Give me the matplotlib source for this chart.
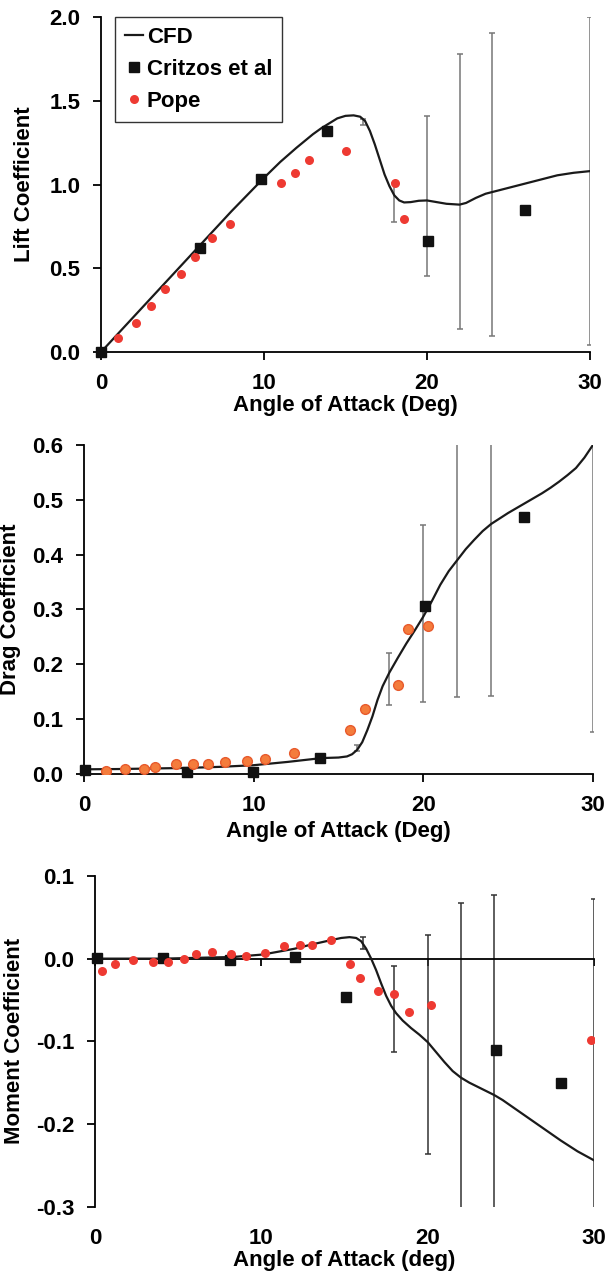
import matplotlib
matplotlib.use("Agg")
import matplotlib.pyplot as plt
from matplotlib.ticker import FormatStrFormatter

plt.rcParams['font.family'] = ['Liberation Sans', 'DejaVu Sans']
plt.rcParams['font.weight'] = 'bold'
plt.rcParams['axes.unicode_minus'] = False

# ---- Lift ----
lift_cfd_a = [0, 2, 4, 6, 8, 9, 10, 11, 12, 13, 13.5, 14, 14.5, 15, 15.5, 15.9, 16.2, 16.5,
              16.8, 17.1, 17.4, 17.7, 18.0, 18.3, 18.6, 19.0, 19.5, 20.0, 20.6, 21.2, 22.0,
              22.4, 23.0, 23.6, 24.2, 25, 26, 27, 28, 29, 30]
lift_cfd = [0, 0.21, 0.42, 0.63, 0.84, 0.94, 1.04, 1.135, 1.22, 1.30, 1.335, 1.365, 1.395,
            1.41, 1.413, 1.405, 1.38, 1.32, 1.24, 1.15, 1.06, 0.99, 0.935, 0.905, 0.893,
            0.895, 0.903, 0.905, 0.895, 0.885, 0.88, 0.89, 0.92, 0.945, 0.96, 0.98, 1.005,
            1.03, 1.055, 1.07, 1.08]
lift_crit_a = [0, 6.07, 9.83, 13.86, 20.05, 26.0]
lift_crit = [0, 0.623, 1.035, 1.317, 0.663, 0.846]
lift_pope_a = [1.07, 2.14, 3.07, 3.93, 4.93, 5.76, 6.83, 7.93, 11.02, 11.93, 12.79, 15.02,
               18.07, 18.6]
lift_pope = [0.084, 0.173, 0.273, 0.378, 0.468, 0.567, 0.681, 0.766, 1.007, 1.071, 1.144,
             1.198, 1.007, 0.796]
lift_err_a = [16.1, 18, 20, 22, 24, 30]
lift_err_lo = [1.355, 0.776, 0.456, 0.139, 0.094, 0.04]
lift_err_hi = [1.392, 1.009, 1.407, 1.781, 1.906, 2.0]

# ---- Drag ----
drag_cfd_a = [0, 2, 4, 6, 8, 10, 12, 14, 15, 15.5, 15.8, 16.1, 16.4, 16.7, 17.0, 17.3, 17.6,
              18.0, 18.5, 19, 19.5, 20, 20.5, 21, 21.5, 22, 22.5, 23, 23.5, 24, 24.5, 25,
              26, 27, 27.5, 28, 28.5, 29, 29.5, 30]
drag_cfd = [0.0085, 0.009, 0.010, 0.011, 0.013, 0.016, 0.022, 0.029, 0.030, 0.032, 0.036,
            0.044, 0.058, 0.08, 0.105, 0.135, 0.16, 0.185, 0.212, 0.238, 0.262, 0.287,
            0.315, 0.345, 0.37, 0.39, 0.41, 0.427, 0.443, 0.456, 0.466, 0.476, 0.494,
            0.512, 0.522, 0.533, 0.545, 0.558, 0.577, 0.6]
drag_crit_a = [0.07, 6.05, 9.97, 13.92, 20.1, 25.96]
drag_crit = [0.007, 0.003, 0.004, 0.030, 0.306, 0.469]
drag_pope_a = [1.3, 2.4, 3.54, 4.17, 5.4, 6.43, 7.3, 8.33, 9.6, 10.65, 12.37, 15.7, 16.54,
               18.48, 19.07, 20.3]
drag_pope = [0.0055, 0.0085, 0.0097, 0.0128, 0.019, 0.019, 0.019, 0.021, 0.024, 0.027,
             0.038, 0.081, 0.119, 0.162, 0.264, 0.27]
drag_err_a = [16.1, 18, 20, 22, 24, 30]
drag_err_lo = [0.042, 0.125, 0.132, 0.141, 0.143, 0.076]
drag_err_hi = [0.053, 0.221, 0.454, 0.65, 0.65, 0.65]

# ---- Moment ----
mom_cfd_a = [0, 4.1, 8.3, 10.1, 12, 13, 14.1, 14.8, 15.3, 15.7, 16.0, 16.3, 16.6, 16.9,
             17.2, 17.5, 17.8, 18.1, 18.5, 19.0, 19.5, 20.0, 20.5, 21, 21.5, 22, 22.5, 23,
             23.5, 24, 24.5, 25, 26, 27, 28, 29, 30]
mom_cfd = [0, 0, 0.002, 0.005, 0.012, 0.017, 0.022, 0.025, 0.026, 0.025, 0.021, 0.012, 0.0,
           -0.014, -0.03, -0.045, -0.057, -0.066, -0.075, -0.084, -0.092, -0.101, -0.113,
           -0.125, -0.136, -0.144, -0.15, -0.155, -0.16, -0.165, -0.171, -0.178, -0.192,
           -0.206, -0.22, -0.233, -0.244]
mom_crit_a = [0.1, 4.08, 8.13, 12.0, 15.1, 24.1, 28.0]
mom_crit = [0.001, 0.001, -0.0015, 0.0016, -0.046, -0.111, -0.15]
mom_pope_a = [0.42, 1.19, 2.3, 3.47, 4.38, 5.36, 6.1, 7.03, 8.18, 9.1, 10.23, 11.37, 12.3,
              13.05, 14.16, 15.33, 15.9, 17.0, 17.96, 18.9, 20.2, 29.8]
mom_pope = [-0.015, -0.007, -0.002, -0.004, -0.004, 0, 0.006, 0.008, 0.0055, 0.0035, 0.007,
            0.015, 0.017, 0.017, 0.023, -0.006, -0.024, -0.039, -0.043, -0.064, -0.056,
            -0.098]
mom_err_a = [16.1, 18, 20, 22, 24, 30]
mom_err_lo = [0.012, -0.113, -0.236, -0.32, -0.32, -0.32]
mom_err_hi = [0.026, -0.009, 0.029, 0.067, 0.077, 0.072]

xticks = [0, 10, 20, 30]
FS = 16

fig = plt.figure(figsize=(6.05, 12.81), dpi=100)
ax1 = fig.add_axes([0.167, 0.7252, 0.808, 0.2615])
ax2 = fig.add_axes([0.139, 0.3958, 0.841, 0.2568])
ax3 = fig.add_axes([0.157, 0.0580, 0.825, 0.2582])


def errbars(ax, xs, lo, hi, color):
    mid = [(a + b) / 2 for a, b in zip(lo, hi)]
    yerr = [[m - a for m, a in zip(mid, lo)], [b - m for m, b in zip(mid, hi)]]
    ax.errorbar(xs, mid, yerr=yerr, fmt='none', ecolor=color, elinewidth=1.1,
                capsize=2.5, capthick=1.1, zorder=2)


def style(ax):
    for s in ['top', 'right']:
        ax.spines[s].set_visible(False)
    for s in ['left', 'bottom']:
        ax.spines[s].set_linewidth(1.3)
    ax.tick_params(direction='out', length=6, width=1.3, labelsize=FS, pad=9)
    ax.set_xlim(0, 30)
    ax.set_xticks(xticks)


def cfd(ax, a, v, **kw):
    ax.plot(a, v, color='#1a1a1a', lw=1.6, solid_joinstyle='round', zorder=3, **kw)


# Lift
style(ax1)
errbars(ax1, lift_err_a, lift_err_lo, lift_err_hi, '#777777')
cfd(ax1, lift_cfd_a, lift_cfd, label='CFD')
ax1.plot(lift_crit_a, lift_crit, 's', color='#111111', ms=6.5, label='Critzos et al',
         zorder=4, clip_on=False)
ax1.plot(lift_pope_a, lift_pope, 'o', color='#ee3a32', ms=6.5, mec='none', label='Pope',
         zorder=4)
ax1.set_ylim(0, 2.0)
ax1.set_yticks([0, 0.5, 1.0, 1.5, 2.0])
ax1.yaxis.set_major_formatter(FormatStrFormatter('%.1f'))
ax1.set_ylabel('Lift Coefficient', fontsize=FS, fontweight='bold', labelpad=10)
ax1.set_xlabel('Angle of Attack (Deg)', fontsize=FS, fontweight='bold', labelpad=1)
leg = ax1.legend(loc='upper left', bbox_to_anchor=(0.028, 1.0), fontsize=FS,
                 frameon=True, fancybox=False, edgecolor='black', handlelength=0.8,
                 handletextpad=0.2, borderpad=0.45, labelspacing=0.5, borderaxespad=0)
leg.get_frame().set_linewidth(1.0)

# Drag
style(ax2)
errbars(ax2, drag_err_a, drag_err_lo, drag_err_hi, '#777777')
cfd(ax2, drag_cfd_a, drag_cfd)
ax2.plot(drag_crit_a, drag_crit, 's', color='#111111', ms=6.5, zorder=4, clip_on=False)
ax2.plot(drag_pope_a, drag_pope, 'o', color='#f47c3c', ms=7, mec='#e85a2c', mew=1,
         zorder=4)
ax2.set_ylim(0, 0.6)
ax2.set_yticks([0, 0.1, 0.2, 0.3, 0.4, 0.5, 0.6])
ax2.yaxis.set_major_formatter(FormatStrFormatter('%.1f'))
ax2.set_ylabel('Drag Coefficient', fontsize=FS, fontweight='bold', labelpad=8)
ax2.set_xlabel('Angle of Attack (Deg)', fontsize=FS, fontweight='bold', labelpad=4)

# Moment
style(ax3)
errbars(ax3, mom_err_a, mom_err_lo, mom_err_hi, '#333333')
cfd(ax3, mom_cfd_a, mom_cfd)
ax3.plot(mom_crit_a, mom_crit, 's', color='#111111', ms=6.5, zorder=4, clip_on=False)
ax3.plot(mom_pope_a, mom_pope, 'o', color='#ee3a32', ms=6.5, mec='none', zorder=4)
ax3.set_ylim(-0.3, 0.1)
ax3.set_yticks([-0.3, -0.2, -0.1, 0.0, 0.1])
ax3.yaxis.set_major_formatter(FormatStrFormatter('%.1f'))
ax3.set_ylabel('Moment Coefficient', fontsize=FS, fontweight='bold', labelpad=8)
# zero line carries the ticks, labels stay at the bottom
ax3.spines['bottom'].set_position(('data', 0))
ax3.tick_params(axis='x', labelbottom=False, length=5)
sec = ax3.secondary_xaxis('bottom')
sec.spines['bottom'].set_visible(False)
sec.set_xticks(xticks)
sec.tick_params(length=0, labelsize=FS, pad=15)
sec.set_xlabel('Angle of Attack (deg)', fontsize=FS, fontweight='bold', labelpad=1)

fig.savefig('out.png', dpi=100)
